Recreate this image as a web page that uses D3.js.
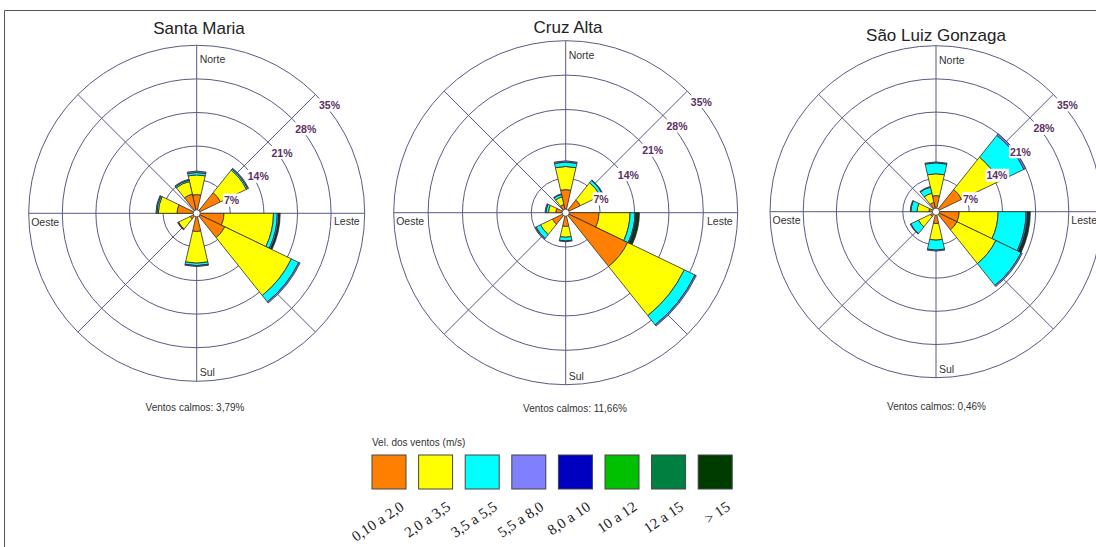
<!DOCTYPE html>
<html>
<head>
<meta charset="utf-8">
<script src="https://cdn.jsdelivr.net/npm/d3@7"></script>
<style>
  body { margin: 0; background: #ffffff; }
  svg { display: block; font-family: "Liberation Sans", Arial, sans-serif; }
</style>
</head>
<body>
<svg id="chart" width="1096" height="547"></svg>
<script>
// Wind speed classes (m/s) and their colours
const speedClasses = ["0,10 a 2,0", "2,0 a 3,5", "3,5 a 5,5", "5,5 a 8,0", "8,0 a 10", "10 a 12", "12 a 15", "> 15"];
const classColors = ["#ff8000", "#ffff00", "#00ffff", "#8080ff", "#0000c0", "#00c000", "#008040", "#003c00"];

// Rose geometry: number of direction sectors, ring ticks (%) and cardinal names
const sectorCount = 14;
const ringTicks = [7, 14, 21, 28, 35];
const cardinalLabels = ["Norte", "Leste", "Sul", "Oeste"];

const stationNames = ["Santa Maria", "Cruz Alta", "São Luiz Gonzaga"];
const calmValues = ["3,79%", "11,66%", "0,46%"];

// Frequency (%) per direction sector (0 = Norte, clockwise), one column per speed class
const santaMaria = [
  [3.9, 4.1, 0.5, 0.3, 0, 0, 0, 0],
  [0, 0, 0, 0, 0, 0, 0, 0],
  [5.5, 6.0, 0.3, 0.2, 0, 0, 0, 0],
  [0, 0, 0, 0, 0, 0, 0, 0],
  [5.7, 10.3, 0.8, 0.3, 0.1, 0, 0, 0.2],
  [6.5, 15.4, 1.7, 0.3, 0, 0, 0, 0],
  [0, 0, 0, 0, 0, 0, 0, 0],
  [3.8, 6.6, 0.5, 0.2, 0, 0, 0, 0],
  [0, 0, 0, 0, 0, 0, 0, 0],
  [1.5, 2.7, 0.1, 0.1, 0, 0, 0, 0],
  [0, 0, 0, 0, 0, 0, 0, 0],
  [4.1, 3.9, 0.3, 0.2, 0, 0, 0, 0],
  [0, 0, 0, 0, 0, 0, 0, 0],
  [4.1, 2.7, 0.3, 0.2, 0, 0, 0, 0]
];
const cruzAlta = [
  [4.7, 4.7, 0.9, 0.25, 0, 0, 0, 0],
  [0, 0, 0, 0, 0, 0, 0, 0],
  [3.3, 4.5, 0.6, 0.15, 0, 0, 0, 0],
  [0, 0, 0, 0, 0, 0, 0, 0],
  [6.8, 6.3, 1.0, 0.2, 0.2, 0, 0, 0.5],
  [14.0, 12.8, 2.4, 0.3, 0, 0, 0, 0],
  [0, 0, 0, 0, 0, 0, 0, 0],
  [2.8, 2.2, 0.75, 0.15, 0, 0, 0, 0],
  [0, 0, 0, 0, 0, 0, 0, 0],
  [3.0, 2.7, 1.0, 0.2, 0, 0, 0, 0],
  [0, 0, 0, 0, 0, 0, 0, 0],
  [2.0, 1.5, 0.5, 0.2, 0, 0, 0, 0],
  [0, 0, 0, 0, 0, 0, 0, 0],
  [1.7, 1.6, 0.5, 0.15, 0, 0, 0, 0]
];
const saoLuizGonzaga = [
  [3.4, 4.6, 2.3, 0.2, 0, 0, 0, 0],
  [0, 0, 0, 0, 0, 0, 0, 0],
  [6.0, 8.7, 5.9, 0.4, 0, 0, 0, 0],
  [0, 0, 0, 0, 0, 0, 0, 0],
  [4.9, 8.2, 5.9, 0.3, 0.2, 0, 0, 0.4],
  [4.9, 9.1, 5.9, 0.3, 0, 0, 0, 0],
  [0, 0, 0, 0, 0, 0, 0, 0],
  [2.5, 3.5, 2.1, 0.2, 0, 0, 0, 0],
  [0, 0, 0, 0, 0, 0, 0, 0],
  [1.3, 2.8, 1.8, 0.15, 0, 0, 0, 0],
  [0, 0, 0, 0, 0, 0, 0, 0],
  [1.5, 2.5, 1.3, 0.15, 0, 0, 0, 0],
  [0, 0, 0, 0, 0, 0, 0, 0],
  [2.0, 2.0, 1.3, 0.15, 0, 0, 0, 0]
];
const stationData = [santaMaria, cruzAlta, saoLuizGonzaga];

// Placement of each rose on the page
const layouts = [
  { cx: 196.7, cy: 213.3, r: 168, titleX: 199, titleY: 34, calmX: 195, calmY: 411 },
  { cx: 565.7, cy: 212.7, r: 172, titleX: 568, titleY: 33, calmX: 575, calmY: 412 },
  { cx: 936,   cy: 211.7, r: 166, titleX: 936, titleY: 41, calmX: 936.5, calmY: 410 }
];

const svg = d3.select("#chart");
const gridColor = "#5a5a84";

// page frame
svg.append("line").attr("x1", 4.5).attr("x2", 1096).attr("y1", 10.5).attr("y2", 10.5)
  .attr("stroke", "#555").attr("stroke-width", 1);
svg.append("line").attr("x1", 4.5).attr("x2", 4.5).attr("y1", 10.5).attr("y2", 547)
  .attr("stroke", "#555").attr("stroke-width", 1);

const sectorWidth = 2 * Math.PI / sectorCount;

stationData.forEach((rows, si) => {
  const L = layouts[si];
  const g = svg.append("g").attr("transform", `translate(${L.cx},${L.cy})`);
  const rScale = d3.scaleLinear().domain([0, d3.max(ringTicks)]).range([0, L.r]);

  // title
  svg.append("text").attr("x", L.titleX).attr("y", L.titleY)
    .attr("text-anchor", "middle").attr("font-size", 17).attr("fill", "#222")
    .text(stationNames[si]);

  // rings
  g.selectAll("circle.ring").data(ringTicks).join("circle")
    .attr("class", "ring").attr("r", d => rScale(d))
    .attr("fill", "none").attr("stroke", gridColor).attr("stroke-width", 1);

  // spokes every 45 degrees
  const spokes = d3.range(0, 360, 45);
  g.selectAll("line.spoke").data(spokes).join("line")
    .attr("class", "spoke")
    .attr("x1", 0).attr("y1", 0)
    .attr("x2", d => rScale(35) * Math.sin(d * Math.PI / 180))
    .attr("y2", d => -rScale(35) * Math.cos(d * Math.PI / 180))
    .attr("stroke", gridColor).attr("stroke-width", 1);

  // cardinal labels
  const R = rScale(35);
  const cardStyle = sel => sel.attr("font-size", 10.5).attr("fill", "#333");
  g.append("text").attr("x", 3).attr("y", -R + 18).text(cardinalLabels[0]).call(cardStyle);
  g.append("text").attr("x", R - 5).attr("y", 12).attr("text-anchor", "end").text(cardinalLabels[1]).call(cardStyle);
  g.append("text").attr("x", 3).attr("y", R - 5).text(cardinalLabels[2]).call(cardStyle);
  g.append("text").attr("x", -R + 2.5).attr("y", 12.5).text(cardinalLabels[3]).call(cardStyle);

  // stacked petals
  const arc = d3.arc();
  const segments = [];
  rows.forEach((vals, di) => {
    const start = di * sectorWidth - sectorWidth / 2;
    let acc = 0;
    vals.forEach((v, ci) => {
      if (v > 0) {
        segments.push({ start, end: start + sectorWidth, inner: acc, outer: acc + v, cls: ci });
        acc += v;
      }
    });
  });
  g.selectAll("path.petal").data(segments).join("path")
    .attr("class", "petal")
    .attr("d", d => arc({ innerRadius: rScale(d.inner), outerRadius: rScale(d.outer), startAngle: d.start, endAngle: d.end }))
    .attr("fill", d => classColors[d.cls])
    .attr("stroke", "#2a2a2a").attr("stroke-width", 0.8);

  // centre hole
  g.append("circle").attr("r", 3.6).attr("fill", "#fff").attr("stroke", "#333").attr("stroke-width", 0.8);

  // ring percentage labels along the NE diagonal
  ringTicks.forEach(t => {
    const p = rScale(t) * Math.SQRT1_2;
    const lbl = g.append("g");
    const txt = lbl.append("text").attr("x", p + 3.5).attr("y", -p + 14.5)
      .attr("font-size", 10.5).attr("font-weight", 600).attr("fill", "#5a2f62").text(t + "%");
    const bb = txt.node().getBBox();
    lbl.insert("rect", "text").attr("x", bb.x - 1).attr("y", bb.y - 0.5)
      .attr("width", bb.width + 2).attr("height", bb.height + 1).attr("fill", "#fff");
  });

  // calms
  svg.append("text").attr("x", L.calmX).attr("y", L.calmY)
    .attr("text-anchor", "middle").attr("font-size", 10).attr("fill", "#333")
    .text("Ventos calmos: " + calmValues[si]);
});

// legend
const legendX = 372, legendY = 455, boxSize = 34, boxStep = 46.6;
svg.append("text").attr("x", legendX).attr("y", 446)
  .attr("font-size", 10).attr("fill", "#333").text("Vel. dos ventos (m/s)");
const lg = svg.append("g");
lg.selectAll("rect").data(speedClasses).join("rect")
  .attr("x", (d, i) => legendX + i * boxStep).attr("y", legendY)
  .attr("width", boxSize).attr("height", boxSize)
  .attr("fill", (d, i) => classColors[i])
  .attr("stroke", "#444").attr("stroke-width", 1);
lg.selectAll("text").data(speedClasses).join("text")
  .attr("transform", (d, i) => `translate(${legendX + i * boxStep + boxSize - 1},${legendY + boxSize + 20}) rotate(-34)`)
  .attr("text-anchor", "end")
  .attr("font-family", "'Liberation Serif', 'Times New Roman', serif")
  .attr("font-size", 15).attr("fill", "#1a1a1a")
  .text(d => d);
</script>
</body>
</html>
